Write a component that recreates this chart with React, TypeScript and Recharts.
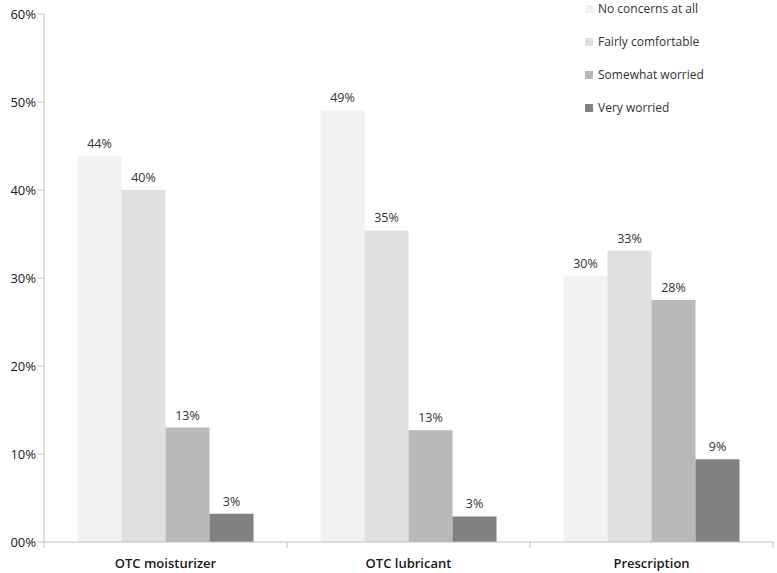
import { BarChart, Bar, XAxis, YAxis, LabelList } from 'recharts';

const categories = ['OTC moisturizer', 'OTC lubricant', 'Prescription'];
const noConcerns = [43.9, 49.1, 30.2];
const fairlyComfortable = [40.0, 35.4, 33.1];
const somewhatWorried = [13.0, 12.7, 27.5];
const veryWorried = [3.2, 2.9, 9.4];
const yTicks = [0, 10, 20, 30, 40, 50, 60];

const series = [
  { key: 'noConcerns', name: 'No concerns at all', color: '#f2f2f2', values: noConcerns },
  { key: 'fairly', name: 'Fairly comfortable', color: '#e0e0e0', values: fairlyComfortable },
  { key: 'somewhat', name: 'Somewhat worried', color: '#b9b9b9', values: somewhatWorried },
  { key: 'very', name: 'Very worried', color: '#818181', values: veryWorried },
];

const data = categories.map((c, i) => {
  const row: any = { name: c };
  series.forEach((s) => (row[s.key] = s.values[i]));
  return row;
});

const W = 777;
const H = 573;
const M = { top: 14, right: 4, left: 0, bottom: 0 };
const Y_W = 44;
const band = (W - M.right - Y_W) / categories.length;
const FONT = '"Open Sans", sans-serif';

const XTick = ({ x, y, payload, index }: any) => (
  <g>
    <line x1={x - band / 2} y1={y - 8} x2={x - band / 2} y2={y - 2} stroke="#bfbfbf" />
    {index === categories.length - 1 && (
      <line x1={x + band / 2} y1={y - 8} x2={x + band / 2} y2={y - 2} stroke="#bfbfbf" />
    )}
    <text x={x} y={y + 18} textAnchor="middle" fill="#1a1a1a" fontSize={13} fontWeight={600} fontFamily={FONT}>
      {payload.value}
    </text>
  </g>
);

// legend drawn as an overlay so it doesn't eat into the plot area
const ChartLegend = () => (
  <div style={{ position: 'absolute', left: 585, top: -8, fontFamily: FONT, fontSize: 12, color: '#333' }}>
    {series.map((s) => (
      <div key={s.key} style={{ display: 'flex', alignItems: 'center', height: 33 }}>
        <span style={{ width: 8, height: 8, background: s.color, marginRight: 5, display: 'inline-block' }} />
        <span>{s.name}</span>
      </div>
    ))}
  </div>
);

export default function App() {
  return (
    <div style={{ position: 'absolute', left: 0, top: 0, width: W, height: H, background: '#fff' }}>
      <BarChart width={W} height={H} data={data} margin={M} barGap={0} barCategoryGap="13.8%">
        <XAxis
          dataKey="name"
          axisLine={{ stroke: '#bfbfbf' }}
          tickLine={false}
          tick={<XTick />}
          height={31}
          interval={0}
        />
        <YAxis
          domain={[0, 60]}
          ticks={yTicks}
          width={Y_W}
          axisLine={{ stroke: '#bfbfbf' }}
          tickLine={{ stroke: '#bfbfbf' }}
          tickSize={5}
          tickMargin={3}
          tickFormatter={(v: number) => (v === 0 ? '00%' : `${v}%`)}
          tick={{ fill: '#1a1a1a', fontSize: 13, fontFamily: FONT }}
        />
        {series.map((s) => (
          <Bar key={s.key} dataKey={s.key} name={s.name} fill={s.color} isAnimationActive={false}>
            <LabelList
              dataKey={s.key}
              position="top"
              offset={8}
              formatter={(v: any) => `${Math.round(v)}%`}
              style={{ fill: '#333', fontSize: 12.5, fontFamily: FONT }}
            />
          </Bar>
        ))}
      </BarChart>
      <ChartLegend />
    </div>
  );
}
